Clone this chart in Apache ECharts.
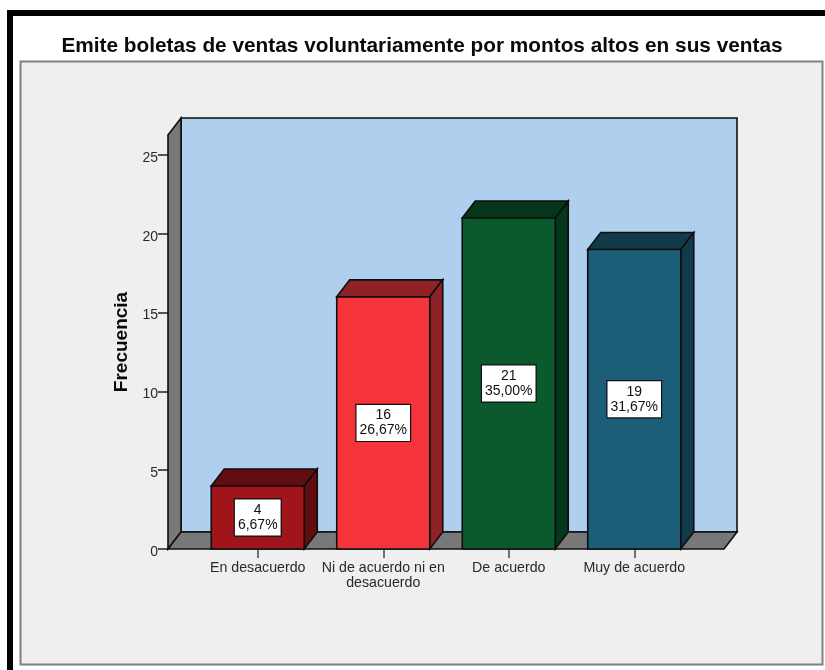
<!DOCTYPE html>
<html>
<head>
<meta charset="utf-8">
<style>html,body{margin:0;padding:0;background:#fff}#c{width:825px;height:670px}</style>
<script src="https://cdn.jsdelivr.net/npm/echarts@6/dist/echarts.min.js"></script>
</head>
<body>
<div id="c"></div>
<script>
const titleText = 'Emite boletas de ventas voluntariamente por montos altos en sus ventas';
const categories = ['En desacuerdo', 'Ni de acuerdo ni en\ndesacuerdo', 'De acuerdo', 'Muy de acuerdo'];
const frequencies = [4, 16, 21, 19];
const percents = ['6,67%', '26,67%', '35,00%', '31,67%'];
const frontColors = ['#A0151A', '#F4333A', '#0B5A2D', '#1C5E78'];
const shadeColors = ['#620E10', '#8F2226', '#06361B', '#113B4B'];
const yTicks = [0, 5, 10, 15, 20, 25];
const yMax = 26.27;

const DX = 13, DY = -17, BAR_W = 93, PAD = 27;
const FONT = '"Liberation Sans", Arial, sans-serif';
const EDGE = { stroke: '#0e0e0e', lineWidth: 1.6, lineJoin: 'miter' };

function poly(points, fill) {
  return { type: 'polygon', shape: { points }, style: Object.assign({ fill }, EDGE) };
}

function renderWalls(params, api) {
  const c = api.coord([0, 0]);
  const band = api.size([1, 0])[0];
  const l = c[0] - band / 2 - PAD;
  const r = l + band * categories.length + PAD * 2;
  const b = c[1];
  const t = api.coord([0, yMax])[1];
  return { type: 'group', children: [
    poly([[l + DX, t + DY], [r + DX, t + DY], [r + DX, b + DY], [l + DX, b + DY]], '#AECFEE'),
    poly([[l, t], [l + DX, t + DY], [l + DX, b + DY], [l, b]], '#787878'),
    poly([[l, b], [l + DX, b + DY], [r + DX, b + DY], [r, b]], '#787878')
  ]};
}

function renderBar(params, api) {
  const i = params.dataIndex;
  const top = api.coord([api.value(0), api.value(1)]);
  const bot = api.coord([api.value(0), 0]);
  const l = top[0] - BAR_W / 2, r = top[0] + BAR_W / 2;
  return { type: 'group', children: [
    poly([[l, top[1]], [l + DX, top[1] + DY], [r + DX, top[1] + DY], [r, top[1]]], shadeColors[i]),
    poly([[r, top[1]], [r + DX, top[1] + DY], [r + DX, bot[1] + DY], [r, bot[1]]], shadeColors[i]),
    poly([[l, top[1]], [r, top[1]], [r, bot[1]], [l, bot[1]]], frontColors[i]),
    { type: 'text', x: top[0], y: (top[1] + bot[1]) / 2, z2: 10, style: {
        text: api.value(1) + '\n' + percents[i],
        font: '14px ' + FONT,
        fill: '#111', align: 'center', verticalAlign: 'middle', lineHeight: 15,
        backgroundColor: '#fff', borderColor: '#111', borderWidth: 1.2,
        padding: [3, 3, 3, 3]
    }}
  ]};
}

const chart = echarts.init(document.getElementById('c'), null, { renderer: 'canvas', width: 825, height: 670 });
chart.setOption({
  animation: false,
  backgroundColor: '#fff',
  title: {
    text: titleText, left: 417, top: 31, textAlign: 'center',
    textStyle: { fontFamily: FONT, fontSize: 20.8, fontWeight: 'bold', color: '#0a0a0a' }
  },
  graphic: [
    { type: 'rect', z: -10, shape: { x: 7, y: 10, width: 818, height: 660 }, style: { fill: '#000' } },
    { type: 'rect', z: -9, shape: { x: 13, y: 16, width: 812, height: 654 }, style: { fill: '#fff' } },
    { type: 'rect', z: -8, shape: { x: 20.5, y: 61.5, width: 802, height: 603 }, style: { fill: '#EFEFEF', stroke: '#808080', lineWidth: 2 } }
  ],
  grid: { left: 195, right: 128, top: 135, bottom: 121, containLabel: false },
  xAxis: {
    type: 'category', data: categories,
    axisLine: { show: false },
    axisTick: { show: true, alignWithLabel: true, length: 9, lineStyle: { color: '#444', width: 1.5 } },
    axisLabel: { interval: 0, margin: 12, lineHeight: 15, fontSize: 14.2, color: '#2a2a2a', fontFamily: FONT },
    splitLine: { show: false }
  },
  yAxis: {
    type: 'value', min: 0, max: yMax, interval: 5, offset: 27,
    name: 'Frecuencia', nameLocation: 'middle', nameGap: 37,
    nameTextStyle: { fontFamily: FONT, fontSize: 19, fontWeight: 'bold', color: '#0a0a0a' },
    axisLine: { show: false },
    axisTick: { show: true, length: 10, customValues: yTicks, lineStyle: { color: '#222', width: 1.5 } },
    axisLabel: { customValues: yTicks, margin: 10, verticalAlign: 'top', lineHeight: 6, fontSize: 14, color: '#2a2a2a', fontFamily: FONT },
    splitLine: { show: false }
  },
  series: [
    { type: 'custom', z: 1, silent: true, renderItem: renderWalls, data: [[0, 0]], encode: { x: 0, y: 1 } },
    { type: 'custom', z: 2, silent: true, renderItem: renderBar, data: frequencies.map((v, i) => [i, v]), encode: { x: 0, y: 1 } }
  ]
});
</script>
</body>
</html>
